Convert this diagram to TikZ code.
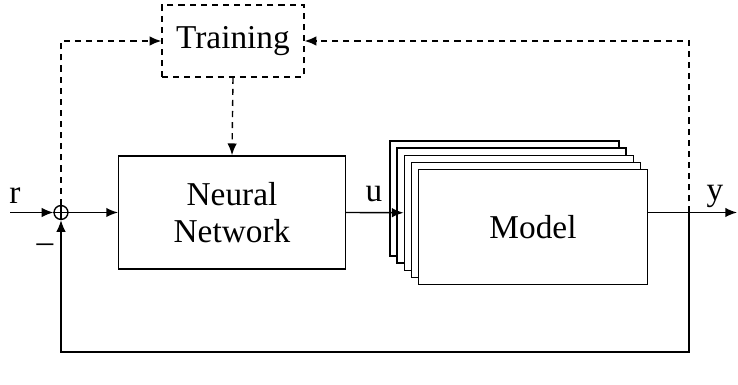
\documentclass[tikz,border=0pt]{standalone}
\usepackage{fontspec}
\setmainfont{Liberation Serif}
\usetikzlibrary{arrows.meta,positioning,calc}
\tikzset{
  blockbox/.style={draw,line width=0.5pt,fill=white,minimum width=81.6pt,minimum height=40.8pt,align=center,inner sep=0pt},
  modelbox/.style={blockbox,minimum width=82.4pt,minimum height=41.4pt},
  trainbox/.style={draw,line width=0.5pt,dash pattern=on 2.2pt off 1.8pt,minimum width=51.1pt,minimum height=25.9pt,inner sep=0pt},
  sumnode/.style={draw,line width=0.5pt,circle,minimum size=5pt,inner sep=0pt},
  arrow/.style={-{Latex[length=4.2pt,width=3.4pt]},line width=0.5pt},
  dasharrow/.style={arrow,dash pattern=on 2.2pt off 1.8pt},
  lbl/.style={inner sep=0pt}
}
\begin{document}
\begin{tikzpicture}[x=0.36pt,y=-0.36pt,font=\fontsize{12}{13.5}\selectfont]
  \useasboundingbox (0,0) rectangle (738,385);
  % blocks
  \node[sumnode] (sum) at (61,212.5) {};
  \draw[line width=0.5pt] (sum.north)--(sum.south) (sum.west)--(sum.east);
  \node[blockbox] (nn) at (232,212.5) {Neural\\Network};
  \node[trainbox] (train) at (233,41) {Training};
  \foreach \i in {0,...,4}
    \node[modelbox] (m\i) at (504.5+7.125*\i,198.5+7.125*\i) {};
  \node at (m4) {Model};
  % points
  \coordinate (rin) at (10,212.5);
  \coordinate (tap) at (689,212.5);
  \coordinate (yout) at (737,212.5);
  \coordinate (fb) at (689,352);
  % signals
  \draw[arrow] (rin) -- (sum.west);
  \draw[arrow] (sum.east) -- (nn.west);
  \draw[arrow] (nn.east) -- (m2.west);
  \draw[arrow] (m4.east |- tap) -- (yout);
  \draw[arrow] (tap) -- (fb) -| (sum.south);
  \draw[dasharrow] (tap) |- (train.east);
  \draw[dasharrow] (sum.north) |- (train.west);
  \draw[dasharrow] (train.south) -- (nn.north);
  % labels
  \node[lbl] at (15,196) {r};
  \node[lbl] at (45,248) {--};
  \node[lbl] at (374,194) {u};
  \node[lbl] at (715,196) {y};
\end{tikzpicture}
\end{document}
